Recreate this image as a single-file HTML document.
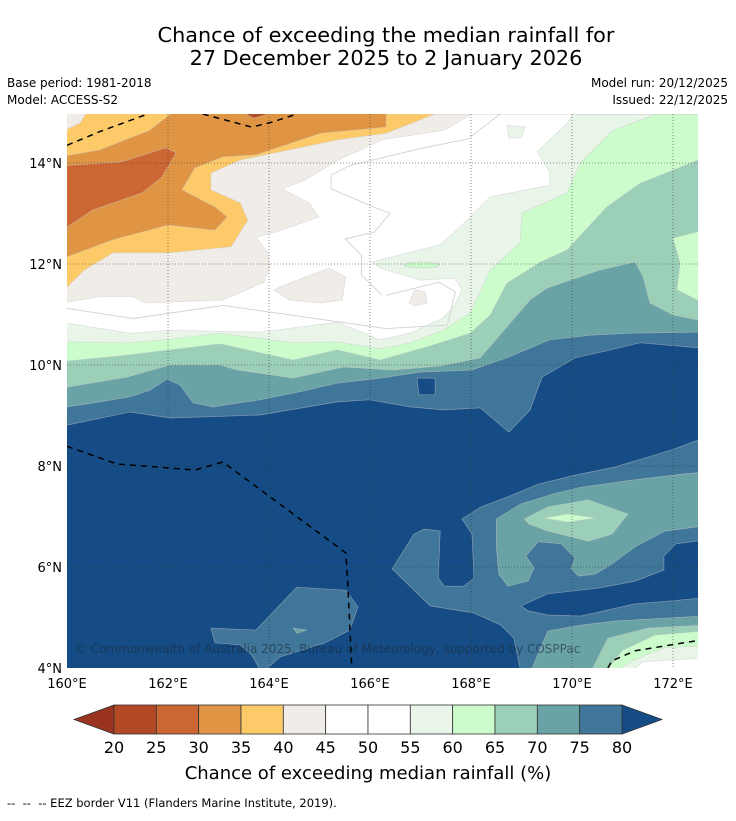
<!DOCTYPE html>
<html><head><meta charset="utf-8">
<style>
html,body{margin:0;padding:0;background:#fff;}
body{width:736px;height:816px;overflow:hidden;font-family:"Liberation Sans",sans-serif;}
svg text{font-family:"DejaVu Sans","Liberation Sans",sans-serif;}
</style></head>
<body>
<svg id="chart" width="736" height="816" viewBox="0 0 736 816" xmlns="http://www.w3.org/2000/svg">
  <text x="386" y="42" font-size="20.8" text-anchor="middle" fill="#000">Chance of exceeding the median rainfall for</text>
  <text x="386" y="65" font-size="20.8" text-anchor="middle" fill="#000">27 December 2025 to 2 January 2026</text>
  <text x="7" y="87" font-size="12">Base period: 1981-2018</text>
  <text x="7" y="104" font-size="12">Model: ACCESS-S2</text>
  <text x="728" y="87" font-size="12" text-anchor="end">Model run: 20/12/2025</text>
  <text x="728" y="104" font-size="12" text-anchor="end">Issued: 22/12/2025</text>
  <defs><clipPath id="mapclip"><rect x="67" y="114" width="631" height="554"/></clipPath></defs>
  <g id="map" clip-path="url(#mapclip)"></g>
  <g id="axes"></g>
  <g id="cbar"></g>
  <text x="368" y="779" font-size="18" text-anchor="middle">Chance of exceeding median rainfall (%)</text>
  <text x="7" y="807" font-size="11.5">-- &#160;-- &#160;-- EEZ border V11 (Flanders Marine Institute, 2019).</text>
</svg>
<script>
// ---- data ----
const levels = [20,25,30,35,40,45,50,55,60,65,70,75,80];
const levelColors = ['#b34a25','#cc6633','#e09545','#fdca6a','#f0ede8','#ffffff','#ffffff','#eaf5ea','#ccfccc','#9ccfb8','#6aa3a6','#3f7699'];
const underColor = '#9a3420';
const overColor = '#154c85';
const lonTicks = [160,162,164,166,168,170,172];
const latTicks = [4,6,8,10,12,14];
// contour lines (lon, lat) west->east; region to the north/west is the drier side
const c80 = [[160,8.81],[161.25,9.07],[162.04,8.95],[163.82,9.01],[165.35,9.27],[166.0,9.31],[166.79,9.17],[167.45,9.11],[168.18,9.15],[168.75,8.67],[169.17,9.11],[169.31,9.5],[169.41,9.76],[170.06,10.14],[170.77,10.3],[171.35,10.44],[172.5,10.34]];
const c75 = [[160,9.17],[160.65,9.27],[161.25,9.37],[161.64,9.5],[161.98,9.72],[162.24,9.6],[162.5,9.25],[162.89,9.17],[163.82,9.31],[164.61,9.47],[165.35,9.64],[166.2,9.74],[166.99,9.86],[168.02,9.9],[168.75,10.16],[169.56,10.5],[170.38,10.59],[171.17,10.63],[172.5,10.65]];
const c70 = [[160,9.56],[161.19,9.76],[162.04,10.0],[163.03,10.0],[163.37,9.9],[164.48,9.74],[165.47,9.96],[166.46,9.9],[167.39,9.98],[168.18,10.14],[168.57,10.59],[169.17,11.29],[169.5,11.52],[170.55,11.88],[171.25,12.04],[171.41,11.74],[171.54,11.23],[172.0,10.99],[172.5,10.89]];
const c65 = [[160,10.08],[161.05,10.18],[162.04,10.3],[163.03,10.42],[164.48,10.1],[165.35,10.3],[166.2,10.1],[167.13,10.36],[167.98,10.63],[168.38,10.99],[168.71,11.62],[169.37,12.04],[169.9,12.28],[170.69,13.13],[171.35,13.6],[172.5,14.06]];
const c60 = [[160,10.46],[161.19,10.44],[162.04,10.51],[163.03,10.63],[164.48,10.44],[165.35,10.46],[166.2,10.32],[166.79,10.44],[167.45,10.69],[167.98,11.03],[168.38,11.88],[168.97,12.42],[169.01,13.01],[169.9,13.41],[170.16,14.0],[170.81,14.65],[171.68,14.97]];
const c55 = [[160,10.83],[161.25,10.63],[162.04,10.69],[163.82,10.65],[165.35,10.85],[166.2,10.5],[166.79,10.63],[167.45,10.93],[167.68,11.19],[167.82,11.49],[167.68,11.72],[166.99,11.68],[166.2,11.92],[166.04,12.04],[166.59,12.18],[167.39,12.38],[167.78,12.73],[168.38,13.33],[169.56,13.56],[169.56,13.82],[169.31,14.22],[169.9,14.79],[170.02,14.97]];
const c45 = [[160,11.25],[160.67,11.35],[161.31,11.35],[161.56,11.23],[163.09,11.29],[163.9,11.64],[164.02,11.94],[163.98,12.22],[163.74,12.53],[164.06,12.61],[164.99,12.93],[164.79,13.21],[164.26,13.49],[164.71,13.66],[165.37,14.06],[166.24,14.46],[167.47,14.65],[168.02,14.97]];
const c40 = [[160,11.54],[160.34,11.88],[160.91,12.22],[162.0,12.22],[163.25,12.34],[163.58,12.87],[163.43,13.21],[162.85,13.47],[162.85,13.8],[163.43,14.06],[164.4,14.26],[165.37,14.46],[166.32,14.59],[167.29,14.97]];
const c35 = [[160,12.14],[160.91,12.48],[162.0,12.77],[162.93,12.67],[163.17,12.93],[162.93,13.13],[162.28,13.47],[162.53,13.9],[163.09,14.12],[163.74,14.16],[165.03,14.59],[166.32,14.71],[166.32,14.97]];
// closed patches [fillIndex, points]
const patches = [
  [11, [[166.93,9.74],[167.29,9.74],[167.29,9.41],[166.97,9.41]], 'over'],
  [8, [[172.6,12.67],[172.0,12.51],[172.14,12.02],[172.08,11.49],[172.6,11.23]]],
  [7, [[168.71,14.75],[169.07,14.71],[169.01,14.51],[168.75,14.49]]],
];
const dryPatches = [
  [4, [[164.1,11.49],[164.4,11.62],[165.19,11.92],[165.52,11.74],[165.45,11.29],[165.03,11.23],[164.4,11.29]]],
  [4, [[166.77,11.23],[166.89,11.49],[167.09,11.45],[167.13,11.23],[166.89,11.17]]],
];
const nwTop = [3, [[159.5,14.06],[160.65,14.26],[161.64,14.65],[162.34,15.2],[159.5,15.2]]];
const nwCorner = [4, [[159.5,14.43],[160.26,14.79],[160.51,15.2],[159.5,15.2]]];
const c30 = [[160,12.73],[160.51,13.07],[161.49,13.41],[161.88,13.72],[162.16,14.2],[161.96,14.3],[161.07,14.02],[159.5,13.92],[159.5,12.73]];
const c25 = [[163.54,15.2],[163.54,14.97],[163.7,14.89],[163.98,14.97],[163.98,15.2]];
const south = [
  [11, [[172.6,8.55],[171.98,8.32],[170.85,7.98],[170.06,7.82],[169.33,7.64],[168.73,7.39],[168.2,7.19],[167.82,6.95],[168.02,6.65],[168.06,5.78],[167.86,5.62],[167.47,5.62],[167.35,5.78],[167.39,6.71],[167.07,6.75],[166.87,6.65],[166.44,5.96],[167.19,5.23],[168.06,5.09],[168.59,4.85],[168.85,4.59],[168.99,3.9],[172.6,3.9]]],
  [10, [[168.5,6.95],[168.99,7.25],[169.64,7.45],[170.18,7.58],[171.19,7.72],[172.18,7.84],[172.6,7.88],[172.6,6.81],[171.84,6.71],[171.25,6.4],[170.79,6.06],[170.46,5.86],[170.12,5.82],[169.98,5.98],[170.06,6.18],[169.78,6.46],[169.33,6.5],[169.09,6.22],[169.25,5.98],[169.13,5.72],[168.73,5.62],[168.55,5.86],[168.5,6.4]]],
  [9, [[169.05,6.95],[169.52,7.19],[170.32,7.33],[171.11,7.05],[170.79,6.65],[170.32,6.51],[169.52,6.71],[169.15,6.85]]],
  [8, [[169.45,6.97],[169.92,7.05],[170.46,6.97],[169.92,6.89]]],
  [12, [[168.99,5.23],[169.52,5.47],[170.51,5.58],[171.25,5.72],[171.82,5.94],[171.82,6.22],[172.06,6.46],[172.6,6.53],[172.6,5.39],[171.98,5.33],[171.25,5.27],[170.18,5.03],[169.52,5.05],[169.13,5.13]]],
  [10, [[169.17,3.9],[169.52,4.73],[170.18,4.85],[170.85,4.93],[172.6,5.03],[172.6,3.9]]],
  [9, [[170.36,3.9],[170.71,4.59],[171.5,4.79],[172.6,4.85],[172.6,3.9]]],
  [8, [[170.65,3.9],[170.99,4.34],[171.64,4.65],[172.6,4.73],[172.6,3.9]]],
  [7, [[170.85,3.9],[171.19,4.14],[171.84,4.4],[172.6,4.44],[172.6,3.9]]],
  [5, [[171.15,3.9],[171.39,4.12],[172.6,4.2],[172.6,3.9]]],
  [11, [[162.85,4.79],[163.74,4.75],[164.55,5.6],[165.52,5.54],[165.76,5.21],[165.6,4.75],[165.11,4.5],[164.22,4.22],[163.86,3.9],[163.66,4.26],[163.43,4.46],[162.93,4.5]]],
  [10, [[164.48,4.79],[164.75,4.75],[164.55,4.69]]],
];
const c50lines = [
  [[160,11.12],[161.31,10.92],[163.09,11.18],[166.32,10.72],[167.53,10.79],[167.69,11.45],[167.37,11.64],[166.32,11.38]],
  [[168.62,15.0],[167.94,14.48],[166.97,14.28],[165.6,13.95],[165.23,13.76],[165.23,13.49],[166.0,13.16],[166.4,13.0],[166.08,12.63],[165.51,12.5],[165.83,12.17],[165.83,11.78],[166.24,11.38]],
];
const eez = [
  [[160,14.35],[160.67,14.63],[161.6,14.97]],
  [[162.69,14.97],[163.66,14.71],[164.06,14.81],[164.55,14.97]],
  [[160,8.39],[160.99,8.04],[162.53,7.92],[163.09,8.08],[165.52,6.28],[165.56,5.68],[165.64,4.0]],
  [[170.71,4.0],[170.79,4.14],[171.25,4.34],[172.53,4.55]],
];
// ---- axis functions ----
const X0=67, Y0=668, PX=50.5;
function xs(lon){return X0+(lon-160)*PX;}
function ys(lat){return Y0-(lat-4)*PX;}
const NS='http://www.w3.org/2000/svg';
function pts(a){return a.map(p=>xs(p[0]).toFixed(1)+','+ys(p[1]).toFixed(1)).join(' ');}
function northPoly(line){
  const a=line.slice();
  const f=a[0], l=a[a.length-1];
  a.push([173,l[1]],[173,15.5],[159.5,15.5],[159.5,f[1]]);
  return a;
}
const map=document.getElementById('map');
function addPoly(g,arr,fill,name,stroke){
  const p=document.createElementNS(NS,'polygon');
  p.setAttribute('points',pts(arr));
  p.setAttribute('fill',fill);
  p.setAttribute('stroke',stroke||'#c8c8c8');
  p.setAttribute('stroke-width','0.7');
  p.setAttribute('stroke-opacity','0.55');
  
  
  g.appendChild(p);
}
const bg=document.createElementNS(NS,'rect');
bg.setAttribute('x',67);bg.setAttribute('y',114);bg.setAttribute('width',631);bg.setAttribute('height',554);bg.setAttribute('fill',overColor);


map.appendChild(bg);
addPoly(map,northPoly(c80),levelColors[11],'region-75-80');
addPoly(map,northPoly(c75),levelColors[10],'region-70-75');
addPoly(map,northPoly(c70),levelColors[9],'region-65-70');
addPoly(map,northPoly(c65),levelColors[8],'region-60-65');
addPoly(map,northPoly(c60),levelColors[7],'region-55-60');
addPoly(map,northPoly(c55),levelColors[6],'region-45-55');
patches.forEach((pt,i)=>{addPoly(map,pt[1],pt[2]==='over'?overColor:levelColors[pt[0]],'wet-patch-'+i);});
const ell=document.createElementNS(NS,'ellipse');
ell.setAttribute('cx',xs(167.03));ell.setAttribute('cy',ys(11.98));ell.setAttribute('rx',0.35*PX);ell.setAttribute('ry',3);ell.setAttribute('fill',levelColors[8]);ell.setAttribute('stroke','#c8c8c8');ell.setAttribute('stroke-width','0.6');


map.appendChild(ell);
c50lines.forEach((l,i)=>{
  const pl=document.createElementNS(NS,'polyline');
  pl.setAttribute('points',pts(l));pl.setAttribute('fill','none');pl.setAttribute('stroke','#d2d2d2');pl.setAttribute('stroke-width','0.9');
  
  
  map.appendChild(pl);
});
addPoly(map,northPoly(c45),levelColors[4],'region-40-45');
dryPatches.forEach((pt,i)=>{addPoly(map,pt[1],levelColors[pt[0]],'dry-patch-'+i);});
addPoly(map,northPoly(c40),levelColors[3],'region-35-40');
addPoly(map,northPoly(c35),levelColors[2],'region-30-35');
addPoly(map,nwTop[1],levelColors[nwTop[0]],'region-35-40-nw');
addPoly(map,nwCorner[1],levelColors[nwCorner[0]],'region-40-45-nw');
addPoly(map,c30,levelColors[1],'region-25-30');
addPoly(map,c25,levelColors[0],'region-20-25');
south.forEach((pt,i)=>{addPoly(map,pt[1],pt[0]===12?overColor:levelColors[pt[0]],'south-patch-'+i);});
// grid
const axes=document.getElementById('axes');
lonTicks.forEach(lon=>{
  if(lon>160){
    const l=document.createElementNS(NS,'line');
    l.setAttribute('x1',xs(lon));l.setAttribute('x2',xs(lon));l.setAttribute('y1',114);l.setAttribute('y2',668);
    l.setAttribute('stroke','#333');l.setAttribute('stroke-width','0.8');l.setAttribute('stroke-dasharray','1,2');l.setAttribute('opacity','0.7');
    
    
    axes.appendChild(l);
  }
  const t=document.createElementNS(NS,'text');
  t.setAttribute('x',xs(lon));t.setAttribute('y',688);t.setAttribute('font-size','13');t.setAttribute('text-anchor','middle');
  t.textContent=lon+'°E';
  
  
  axes.appendChild(t);
});
latTicks.forEach(lat=>{
  if(lat>4){
    const l=document.createElementNS(NS,'line');
    l.setAttribute('y1',ys(lat));l.setAttribute('y2',ys(lat));l.setAttribute('x1',67);l.setAttribute('x2',698);
    l.setAttribute('stroke','#333');l.setAttribute('stroke-width','0.8');l.setAttribute('stroke-dasharray','1,2');l.setAttribute('opacity','0.7');
    
    
    axes.appendChild(l);
  }
  const t=document.createElementNS(NS,'text');
  t.setAttribute('x',62);t.setAttribute('y',ys(lat)+5);t.setAttribute('font-size','13');t.setAttribute('text-anchor','end');
  t.textContent=lat+'°N';
  
  
  axes.appendChild(t);
});
eez.forEach(l=>{
  const pl=document.createElementNS(NS,'polyline');
  pl.setAttribute('points',pts(l));pl.setAttribute('fill','none');pl.setAttribute('stroke','#000');pl.setAttribute('stroke-width','1.5');pl.setAttribute('stroke-dasharray','6,5');
  pl.setAttribute('clip-path','url(#mapclip)');
  
  
  axes.appendChild(pl);
});
const cr=document.createElementNS(NS,'text');
cr.setAttribute('x',75);cr.setAttribute('y',653);cr.setAttribute('font-size','12');cr.setAttribute('fill','#1a2a3a');cr.setAttribute('opacity','0.6');
cr.textContent='© Commonwealth of Australia 2025, Bureau of Meteorology, supported by COSPPac';


axes.appendChild(cr);
// colorbar
const cb=document.getElementById('cbar');
const CB0=114, CB1=622, CBY=705, CBH=29;
function cbx(v){return CB0+(v-levels[0])/(levels[levels.length-1]-levels[0])*(CB1-CB0);}
const lt=document.createElementNS(NS,'polygon');
lt.setAttribute('points',`${CB0},${CBY} 74,${CBY+CBH/2} ${CB0},${CBY+CBH}`);lt.setAttribute('fill',underColor);lt.setAttribute('stroke','#333');lt.setAttribute('stroke-width','0.8');


cb.appendChild(lt);
const rt=document.createElementNS(NS,'polygon');
rt.setAttribute('points',`${CB1},${CBY} 662,${CBY+CBH/2} ${CB1},${CBY+CBH}`);rt.setAttribute('fill',overColor);rt.setAttribute('stroke','#333');rt.setAttribute('stroke-width','0.8');


cb.appendChild(rt);
for(let i=0;i<levels.length-1;i++){
  const r=document.createElementNS(NS,'rect');
  r.setAttribute('x',cbx(levels[i]));r.setAttribute('y',CBY);r.setAttribute('width',cbx(levels[i+1])-cbx(levels[i]));r.setAttribute('height',CBH);
  r.setAttribute('fill',levelColors[i]);r.setAttribute('stroke','#333');r.setAttribute('stroke-width','0.8');
  
  
  cb.appendChild(r);
}
levels.forEach(v=>{
  const t=document.createElementNS(NS,'text');
  t.setAttribute('x',cbx(v));t.setAttribute('y',753);t.setAttribute('font-size','16');t.setAttribute('text-anchor','middle');
  t.textContent=v;
  
  
  cb.appendChild(t);
});
</script>
</body></html>
